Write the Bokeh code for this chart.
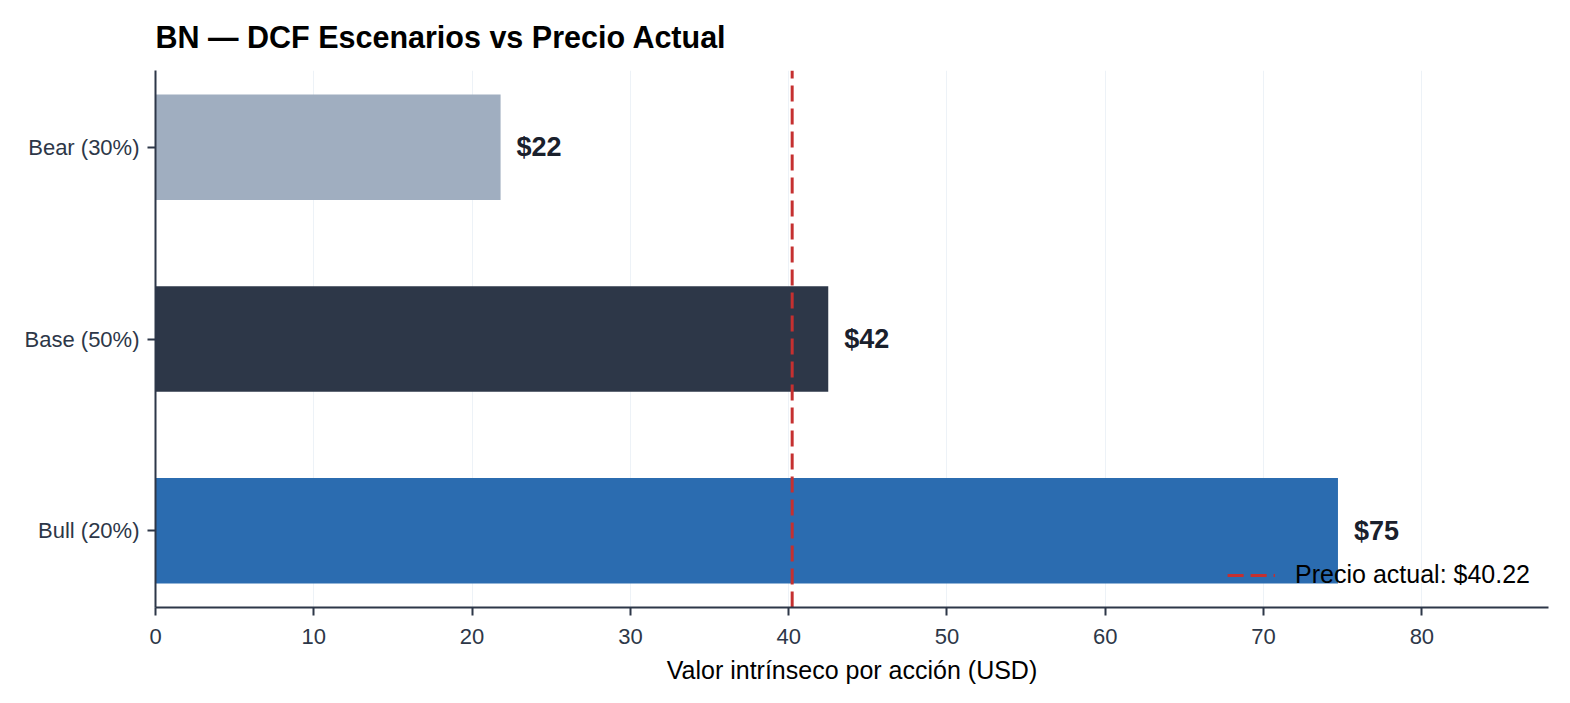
from bokeh.plotting import figure
from bokeh.models import Range1d, FixedTicker, SingleIntervalTicker
from bokeh.core.properties import value
from bokeh.embed import file_html
from bokeh.resources import INLINE

# datos del DCF
escenarios = ["Bear (30%)", "Base (50%)", "Bull (20%)"]
valores = [21.8, 42.5, 74.7]
etiquetas = ["$22", "$42", "$75"]
colores = ["#a0aec0", "#2d3748", "#2b6cb0"]
precio_actual = 40.22

FUENTE = "Liberation Sans"

# posiciones: Bear arriba, Bull abajo
pos = [len(escenarios) - 1 - i for i in range(len(escenarios))]

p = figure(width=1562, height=695, output_backend="svg", toolbar_location=None,
           x_range=Range1d(0, 88), y_range=Range1d(-0.4, 2.4),
           min_border_left=155, min_border_right=14, min_border_top=70, min_border_bottom=88)

p.title.text = "BN — DCF Escenarios vs Precio Actual"
p.title.text_font = FUENTE
p.title.text_font_size = "30.5px"
p.title.text_font_style = "bold"
p.title.text_color = "#000000"
p.title.align = "left"
p.title.standoff = 33

p.hbar(y=pos, right=valores, left=0, height=0.55, color=colores, line_color=None)
p.text(x=valores, y=pos, text=etiquetas, x_offset=16, text_baseline="middle", text_align="left",
       text_font=value(FUENTE), text_font_style="bold", text_font_size="27px", text_color="#1a202c")

# linea del precio actual, de punta a punta del eje y
p.line(x=[precio_actual, precio_actual], y=[p.y_range.start, p.y_range.end],
       line_color="#c53030", line_width=3, line_dash="16 7",
       legend_label="Precio actual: $40.22")

p.legend.location = "bottom_right"
p.legend.background_fill_alpha = 0
p.legend.border_line_alpha = 0
p.legend.label_text_font = FUENTE
p.legend.label_text_font_size = "25px"
p.legend.label_text_color = "#000000"
p.legend.glyph_width = 48
p.legend.padding = 4
p.legend.margin = 14
p.legend.label_standoff = 20

p.outline_line_color = None
p.ygrid.grid_line_color = None
p.xgrid.grid_line_color = "#edf2f7"
p.xgrid.grid_line_width = 1

p.xaxis.ticker = SingleIntervalTicker(interval=10)
p.xaxis.axis_label = "Valor intrínseco por acción (USD)"
p.yaxis.ticker = FixedTicker(ticks=pos)
p.yaxis.major_label_overrides = {pos[i]: escenarios[i] for i in range(len(escenarios))}

for eje in (p.xaxis, p.yaxis):
    eje.axis_line_color = "#2d3748"
    eje.axis_line_width = 2
    eje.major_tick_line_color = "#2d3748"
    eje.major_tick_line_width = 2
    eje.major_tick_out = 8
    eje.major_tick_in = 0
    eje.minor_tick_line_color = None
    eje.major_label_text_font = FUENTE
    eje.major_label_text_font_size = "22px"
    eje.major_label_text_color = "#2d3748"
    eje.major_label_standoff = 8
    eje.axis_label_text_font = FUENTE
    eje.axis_label_text_font_size = "25px"
    eje.axis_label_text_font_style = "normal"
    eje.axis_label_text_color = "#000000"
    eje.axis_label_standoff = 8

p.xaxis.major_label_standoff = 13
p.xaxis.axis_label_standoff = 9

open("out.html", "w").write(file_html(p, INLINE))
